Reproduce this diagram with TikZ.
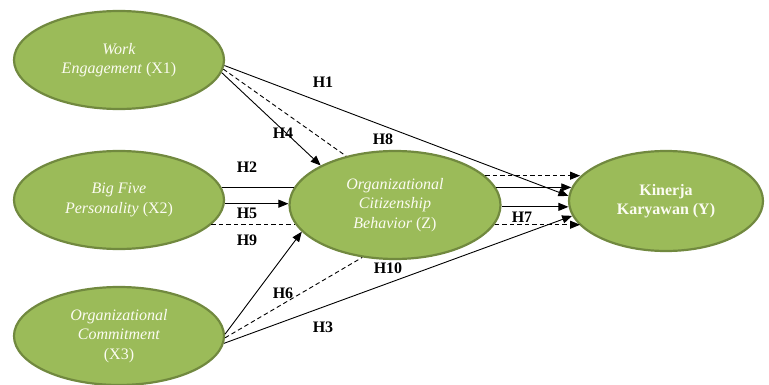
\documentclass[tikz,border=0pt]{standalone}
\usepackage{fontspec}
\setmainfont{Liberation Serif}
\usetikzlibrary{shapes.geometric,arrows.meta}
\definecolor{olivefill}{HTML}{9BBB59}
\definecolor{olivedraw}{HTML}{71893F}
\definecolor{cream}{HTML}{FCFCF2}
\begin{document}
\begin{tikzpicture}[x=1pt,y=-1pt,
  latent/.style={ellipse, draw=olivedraw, fill=olivefill, line width=2.2pt, inner sep=0pt,
    text=cream, align=center, font=\fontsize{16}{19.5}\selectfont},
  conn/.style={line width=0.9pt, draw=black},
  arr/.style={conn, -{Triangle[length=10pt,width=8pt]}},
  dashline/.style={conn, dash pattern=on 4.5pt off 3pt},
  hlabel/.style={font=\fontsize{16}{16}\selectfont\bfseries, text=black, inner sep=0pt}]
\useasboundingbox (0,0) rectangle (769,385);
% constructs
\node[latent, minimum width=210pt, minimum height=98pt] (X1) at (119,60)
  {\textit{Work}\\\textit{Engagement} (X1)};
\node[latent, minimum width=210pt, minimum height=98pt] (X2) at (119,200)
  {\textit{Big Five}\\\textit{Personality} (X2)};
\node[latent, minimum width=210pt, minimum height=98pt] (X3) at (119,336)
  {\textit{Organizational}\\\textit{Commitment}\\(X3)};
\node[latent, minimum width=211pt, minimum height=108pt] (Z) at (395,205)
  {\textit{Organizational}\\\textit{Citizenship}\\\textit{Behavior} (Z)};
\node[latent, minimum width=194pt, minimum height=100pt, font=\fontsize{16}{19.5}\selectfont\bfseries] (Y) at (666,201)
  {Kinerja\\Karyawan (Y)};
% connectors
\draw[arr] (X1.-3) -- (Y.177);                          % H1
\draw[arr] (X1.-7) -- (Z.152);                          % H4
\draw[dashline] (X1.-5) -- (Z.135);                     % H8
\draw[dashline, arr] (Z.18) -- (Z.18 -| Y.164);
\draw[conn] (X2.7) -- (X2.7 -| Z.170);                  % H2
\draw[arr] (Z.10 |- X2.7) -- (Y.172 |- X2.7);
\draw[arr] (X2.-2) -- (X2.-2 -| Z.west);                % H5
\draw[dashline] (X2.-15) -- (X2.-15 -| Z.191);          % H9
\draw[dashline, arr] (Z.-11 |- X2.-15) -- (Y.196 |- X2.-15);
\draw[arr] (Z.-1) -- (Z.-1 -| Y.183);                   % H7
\draw[arr] (X3.1) -- (Z.196);                           % H6
\draw[dashline] (X3.-1) -- (Z.238);                     % H10
\draw[arr] (X3.-4) -- (Y.189);                          % H3
% labels
\node[hlabel] (l1) at (323,82) {H1};
\node[hlabel] (l4) at (283,133) {H4};
\node[hlabel] (l8) at (383,139) {H8};
\node[hlabel] (l2) at (247,167) {H2};
\node[hlabel] (l5) at (247,213) {H5};
\node[hlabel] (l9) at (247,240) {H9};
\node[hlabel] (l7) at (522,217) {H7};
\node[hlabel] (l10) at (388,268) {H10};
\node[hlabel] (l6) at (283,293) {H6};
\node[hlabel] (l3) at (323,327) {H3};
\end{tikzpicture}
\end{document}
